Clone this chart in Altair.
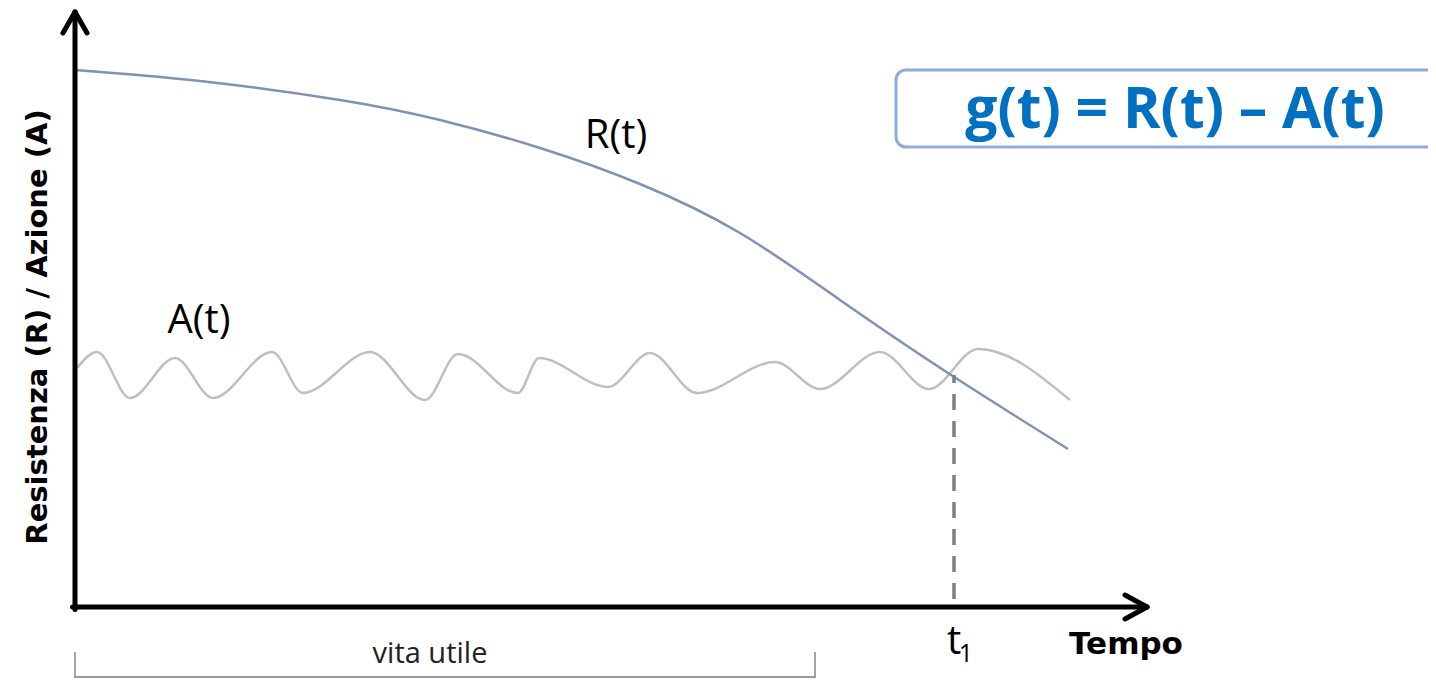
import altair as alt
import pandas as pd

# ---- data (t = time from origin, v = value) ----
R_t = [0, 125, 265, 365, 465, 565, 665, 765, 873, 993]
R_v = [537, 526, 507, 487, 459, 423, 374, 307, 234, 158]

A_t = [2, 22, 55, 100, 138, 197, 228, 295, 350, 383, 443, 464, 533, 575,
       622, 700, 745, 805, 854, 903, 995]
A_v = [239, 255, 209, 249, 209, 255, 214, 255, 207, 253, 214, 249, 220, 254,
       214, 245, 218, 255, 218, 258, 207]

T1 = 879          # failure time t1
T1_VALUE = 232    # value where R(t) meets A(t)
VITA_END = 740    # end of "vita utile"

# ---- layout ----
W, H = 1420, 670
X0_PX, Y0_PX = 75, 607          # origin position on the page
xs = alt.Scale(domain=[8 - X0_PX, 8 + W - X0_PX], nice=False, zero=False)
ys = alt.Scale(domain=[Y0_PX - (8 + H), Y0_PX - 8], nice=False, zero=False)

X = lambda f: alt.X(f, type="quantitative", scale=xs, axis=None)
Y = lambda f: alt.Y(f, type="quantitative", scale=ys, axis=None)

r_df = pd.DataFrame({"t": R_t, "v": R_v})
a_df = pd.DataFrame({"t": A_t, "v": A_v})

r_line = alt.Chart(r_df).mark_line(
    color="#7F93B1", strokeWidth=2.5, interpolate="natural"
).encode(x=X("t"), y=Y("v"))

a_line = alt.Chart(a_df).mark_line(
    color="#BFBFBF", strokeWidth=2.5, interpolate="monotone"
).encode(x=X("t"), y=Y("v"))

# dashed line at t1
dash_df = pd.DataFrame({"t": [T1], "v": [T1_VALUE], "v2": [0]})
dash = alt.Chart(dash_df).mark_rule(
    color="#7F7F7F", strokeWidth=3.5, strokeDash=[16, 11], strokeDashOffset=8
).encode(x=X("t"), y=Y("v"), y2="v2")

# axes with arrow heads
ax_df = pd.DataFrame({
    "t":  [0, -2.5, 0, 0, 1072, 1072],
    "v":  [-2.5, 0, 595, 595, 0, 0],
    "t2": [0, 1072, -12, 12, 1050, 1050],
    "v2": [595, 0, 574, 574, 12, -12],
})
axes = alt.Chart(ax_df).mark_rule(
    color="#000000", strokeWidth=5, strokeCap="round"
).encode(x=X("t"), y=Y("v"), x2="t2", y2="v2")

# "vita utile" bracket
br_df = pd.DataFrame({
    "t":  [0, 0, VITA_END],
    "v":  [-70, -45, -45],
    "t2": [VITA_END, 0, VITA_END],
    "v2": [-70, -95, -95],
})
bracket = alt.Chart(br_df).mark_rule(
    color="#9A9A9A", strokeWidth=1.8
).encode(x=X("t"), y=Y("v"), x2="t2", y2="v2")

# formula box
box_df = pd.DataFrame({"t": [821], "t2": [1420], "v": [537], "v2": [460]})
box = alt.Chart(box_df).mark_rect(
    fillOpacity=0, stroke="#8FAADC", strokeWidth=3, cornerRadius=10, clip=True
).encode(x=X("t"), x2="t2", y=Y("v"), y2="v2")


def label(text, t, v, size, font, weight="normal", color="#000000", angle=0):
    df = pd.DataFrame({"t": [t], "v": [v], "label": [text]})
    return alt.Chart(df).mark_text(
        fontSize=size, font=font, fontWeight=weight, color=color,
        angle=angle, align="center", baseline="alphabetic"
    ).encode(x=X("t"), y=Y("v"), text="label:N")


texts = [
    label("R(t)", 541, 459, 40, "Open Sans"),
    label("A(t)", 124, 274, 40, "Open Sans"),
    label("g(t) = R(t) – A(t)", 1100, 479, 57, "Open Sans", "bold", "#0070C0"),
    label("Tempo", 1051, -47, 31, "DejaVu Sans", "bold"),
    label("t", 879, -47, 40, "Open Sans"),
    label("1", 891, -55, 25, "Open Sans"),
    label("vita utile", 355, -56, 29, "Open Sans", color="#222222"),
    label("Resistenza (R) / Azione (A)", -28, 280, 29, "DejaVu Sans", "bold", angle=270),
]

chart = alt.layer(box, a_line, r_line, dash, bracket, axes, *texts).properties(
    width=W, height=H, padding=0,
    autosize=alt.AutoSizeParams(type="none"),
).configure_view(stroke=None)

chart.save("out.html", embed_options={"renderer": "svg", "actions": False})
